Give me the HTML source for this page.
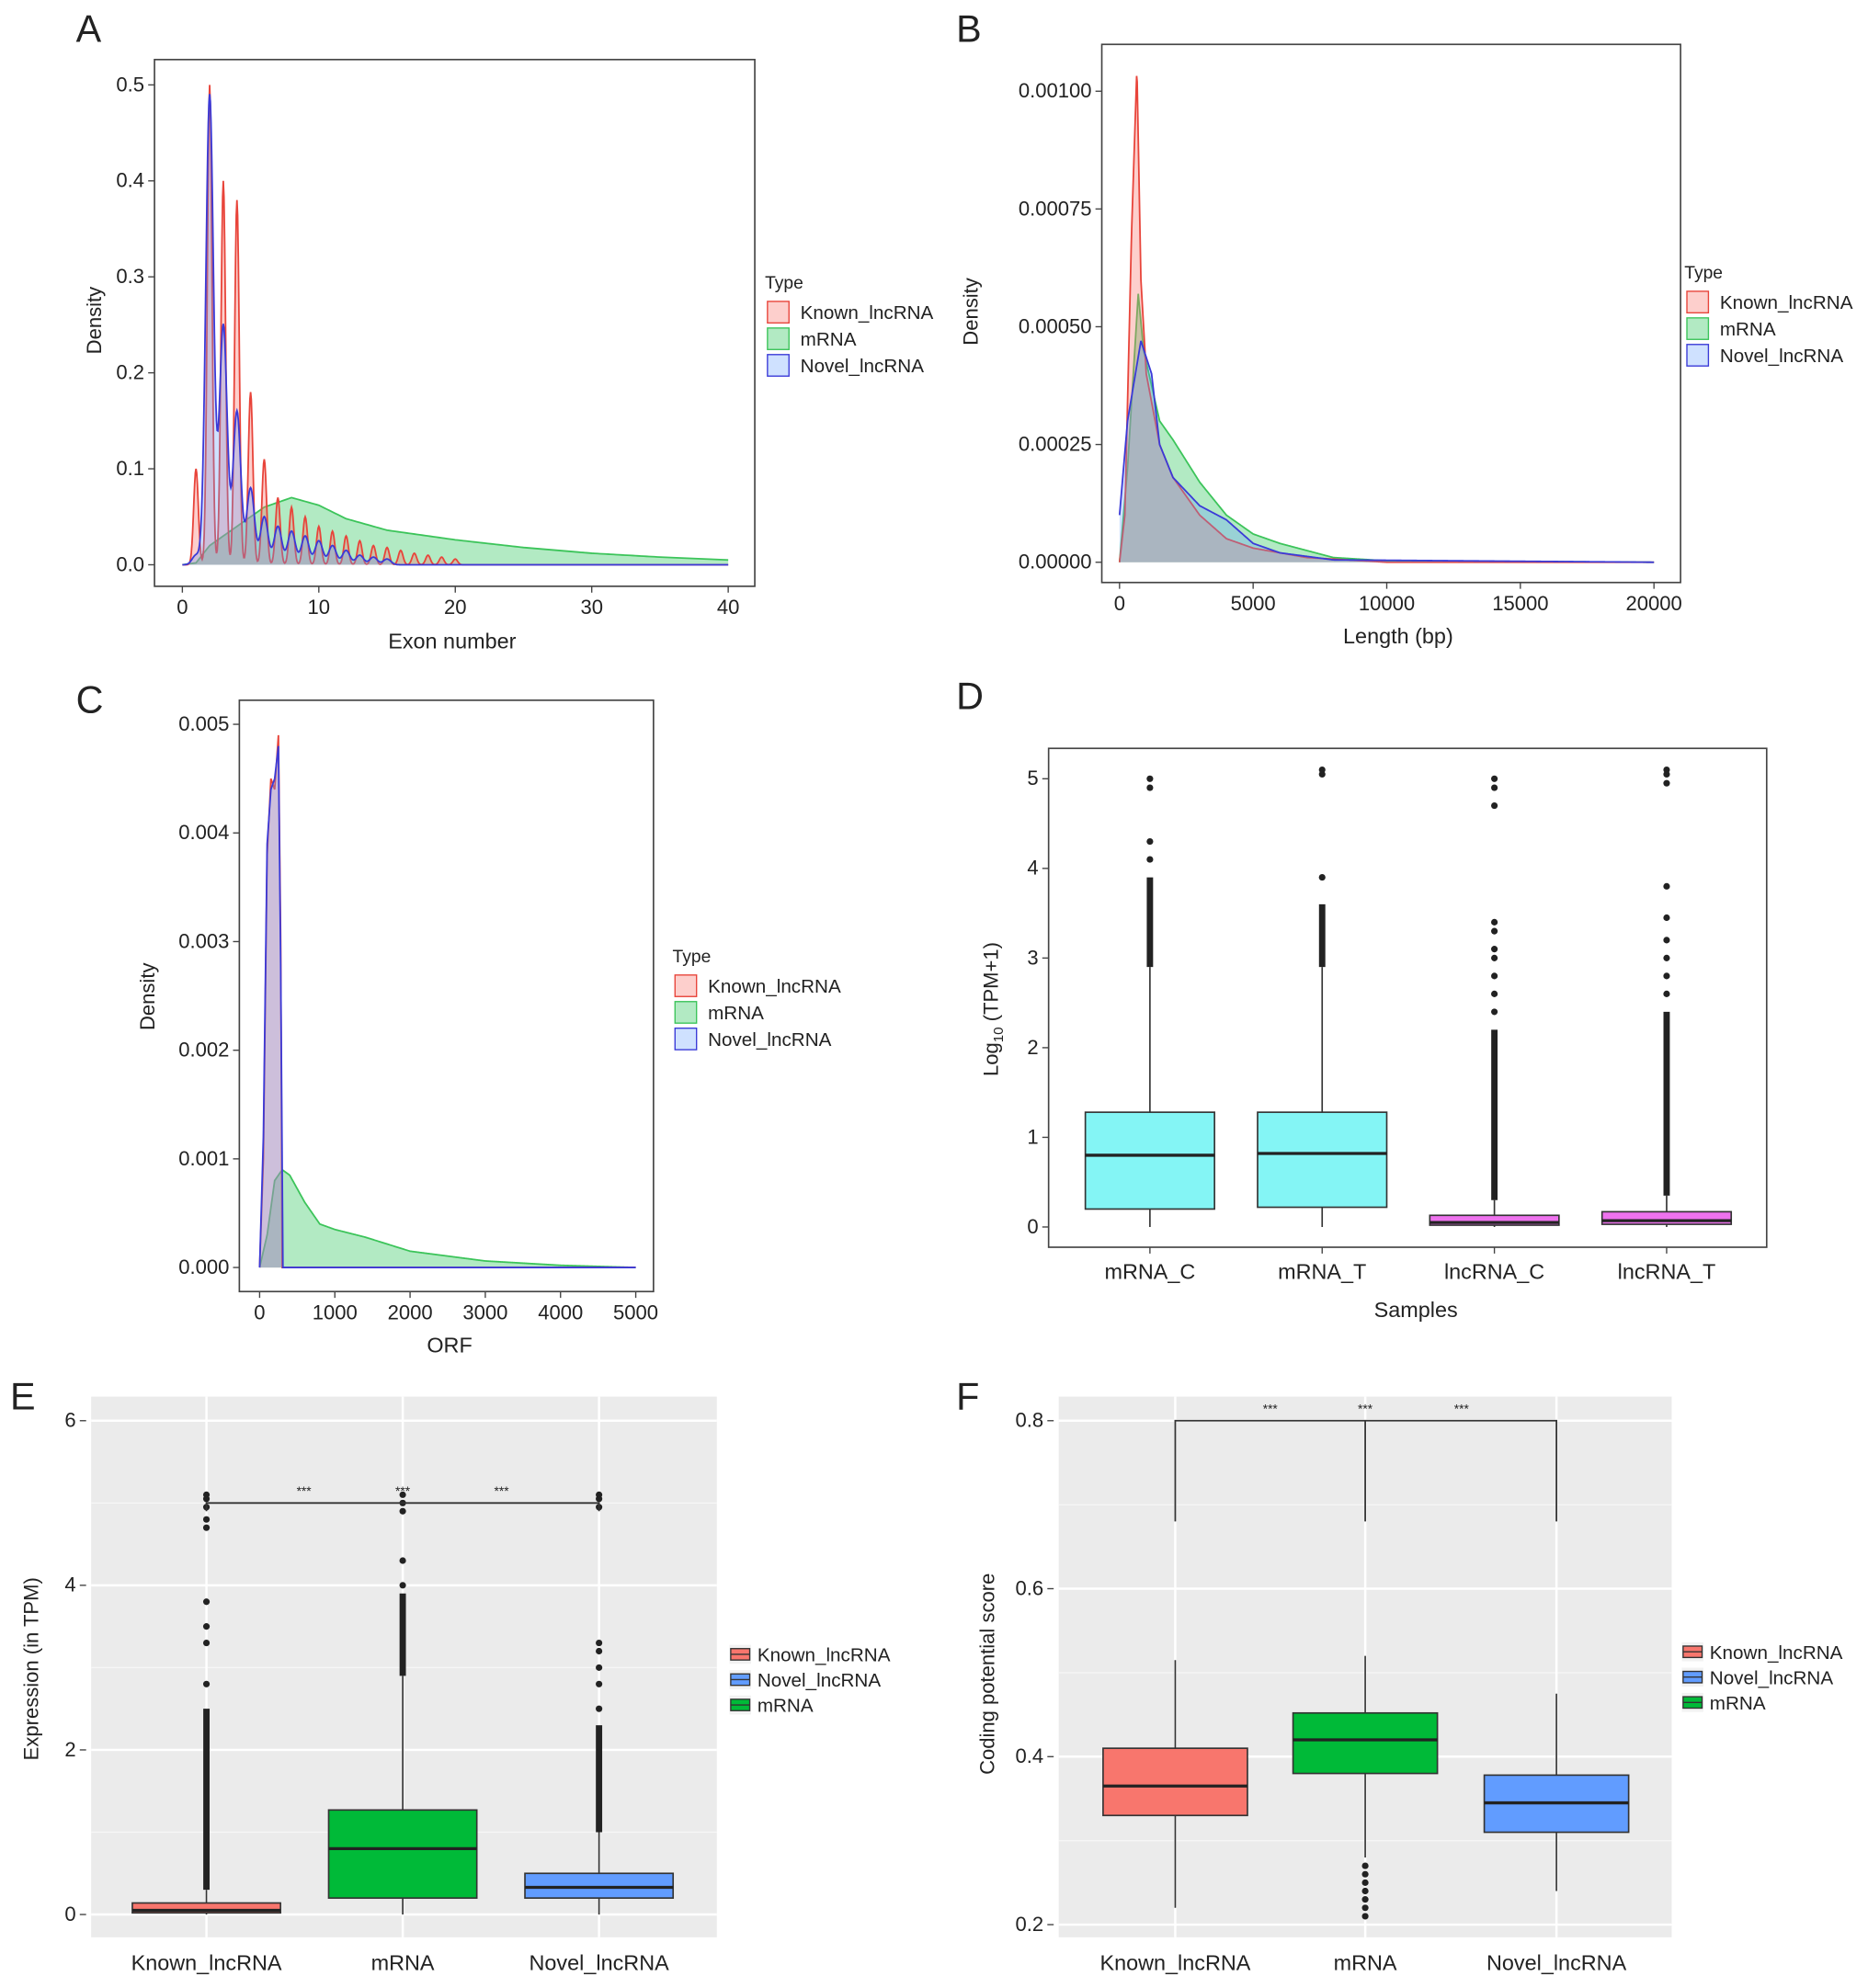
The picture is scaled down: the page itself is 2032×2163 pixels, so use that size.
<!DOCTYPE html>
<html><head><meta charset="utf-8"><style>
html,body{margin:0;padding:0;background:#fff}
svg{display:block;font-family:"Liberation Sans",Arial,sans-serif}
</style></head><body>
<svg id="c" width="2032" height="2163" viewBox="0 0 1475 1570" xmlns="http://www.w3.org/2000/svg"></svg>
<script>
// ---------- DATA ----------
const exonKnownPeaks=[0,0.1,0.5,0.4,0.38,0.18,0.11,0.07,0.06,0.05,0.04,0.035,0.03,0.025,0.02,0.018,0.015,0.012,0.01,0.008,0.006];
const exonNovelPeaks=[0,0.01,0.49,0.25,0.16,0.08,0.05,0.04,0.035,0.03,0.025,0.02,0.015,0.01,0.008,0.006];
const exonMrna=[[0,0],[1,0.002],[2,0.02],[4,0.04],[6,0.06],[8,0.07],[10,0.062],[12,0.048],[15,0.036],[20,0.026],[25,0.018],[30,0.012],[35,0.008],[40,0.005]];
const lenKnown=[[0,0],[200,0.0001],[450,0.0007],[650,0.00105],[800,0.0006],[1000,0.0004],[1500,0.00025],[2000,0.00018],[3000,0.0001],[4000,0.00005],[5000,0.00003],[7000,0.00001],[10000,0],[20000,0]];
const lenMrna=[[0,0],[300,0.0002],[700,0.00057],[900,0.00045],[1500,0.0003],[2000,0.00026],[3000,0.00017],[4000,0.0001],[5000,0.00006],[6000,0.00004],[8000,0.00001],[10000,0.000003],[20000,0]];
const lenNovel=[[0,0.0001],[300,0.0003],[800,0.00047],[1200,0.0004],[1500,0.00025],[2000,0.00018],[3000,0.00012],[4000,0.00009],[5000,0.00004],[6000,0.00002],[8000,0.000005],[20000,0]];
const orfKnown=[[0,0],[50,0.001],[100,0.0038],[150,0.0045],[200,0.0044],[250,0.0049],[280,0.003],[300,0],[5000,0]];
const orfNovel=[[0,0],[50,0.0012],[100,0.0039],[150,0.0044],[200,0.0045],[250,0.0048],[280,0.0028],[310,0],[5000,0]];
const orfMrna=[[0,0],[100,0.0003],[200,0.0008],[300,0.0009],[400,0.00085],[600,0.0006],[800,0.0004],[1000,0.00035],[1400,0.00028],[2000,0.00015],[3000,0.00006],[4000,0.00002],[5000,0]];
const dCats=["mRNA_C","mRNA_T","lncRNA_C","lncRNA_T"];
const dStats=[[0,0.2,0.8,1.28,2.9],[0,0.22,0.82,1.28,2.9],[0,0.02,0.05,0.13,0.3],[0,0.03,0.07,0.17,0.35]];
const dDense=[[2.9,3.9],[2.9,3.6],[0.3,2.2],[0.35,2.4]];
const dOut=[[4.1,4.3,4.9,5.0],[3.9,5.05,5.1],[2.4,2.6,2.8,3.0,3.1,3.3,3.4,4.7,4.9,5.0],[2.6,2.8,3.0,3.2,3.45,3.8,4.95,5.05,5.1]];
const eCats=["Known_lncRNA","mRNA","Novel_lncRNA"];
const eStats=[[0,0.02,0.05,0.14,0.3],[0,0.2,0.8,1.27,2.9],[0,0.2,0.33,0.5,1.0]];
const eDense=[[0.3,2.5],[2.9,3.9],[1.0,2.3]];
const eOut=[[2.8,3.3,3.5,3.8,4.7,4.8,4.95,5.05,5.1],[4.0,4.3,4.9,5.0,5.1],[2.5,2.8,3.0,3.2,3.3,4.95,5.05,5.1]];
const fStats=[[0.22,0.33,0.365,0.41,0.515],[0.28,0.38,0.42,0.452,0.52],[0.24,0.31,0.345,0.378,0.475]];
const fOut=[[],[0.21,0.22,0.23,0.24,0.25,0.26,0.27],[]];
// ---------- HELPERS ----------
const svg=document.getElementById('c');
const NS='http://www.w3.org/2000/svg';
function el(t,a,p){const e=document.createElementNS(NS,t);for(const k in a)e.setAttribute(k,a[k]);(p||svg).appendChild(e);return e;}
function txt(x,y,s,a){const e=el('text',Object.assign({x:x,y:y,'font-size':15,fill:'#222'},a||{}));e.textContent=s;return e;}
function lin(d0,d1,r0,r1){return v=>r0+(v-d0)/(d1-d0)*(r1-r0);}
function interp(pts,x){for(let i=1;i<pts.length;i++){if(x<=pts[i][0]){const a=pts[i-1],b=pts[i];return a[1]+(x-a[0])/(b[0]-a[0])*(b[1]-a[1]);}}return pts[pts.length-1][1];}
function areaPath(fn,x0,x1,X,Y,n){let d='M'+X(x0)+','+Y(0);for(let i=0;i<=n;i++){const x=x0+(x1-x0)*i/n;d+='L'+X(x).toFixed(2)+','+Y(fn(x)).toFixed(2);}return d+'L'+X(x1)+','+Y(0)+'Z';}
function linePath(fn,x0,x1,X,Y,n){let d='';for(let i=0;i<=n;i++){const x=x0+(x1-x0)*i/n;d+=(i?'L':'M')+X(x).toFixed(2)+','+Y(fn(x)).toFixed(2);}return d;}
function peaks(h,s){return x=>{let v=0;h.forEach((p,k)=>{v+=p*Math.exp(-((x-k)**2)/(2*s*s));});return v;};}
function label(x,y,s){const t=txt(x,y,s,{'font-size':30});}
function frame(x0,y0,x1,y1,name){const r=el('rect',{x:x0,y:y0,width:x1-x0,height:y1-y0,fill:'none',stroke:'#444','stroke-width':1.2});}
function xticks(vals,X,y,fmt){vals.forEach(v=>{el('line',{x1:X(v),x2:X(v),y1:y,y2:y+5,stroke:'#444'});const t=txt(X(v),y+22,fmt?fmt(v):String(v),{'text-anchor':'middle','font-size':16});});}
function yticks(vals,Y,x,fmt){vals.forEach(v=>{el('line',{x1:x-5,x2:x,y1:Y(v),y2:Y(v),stroke:'#444'});const t=txt(x-8,Y(v)+5,fmt(v),{'text-anchor':'end','font-size':16});});}
function ytitle(x,y,s,name){const t=txt(x,y,s,{'text-anchor':'middle','font-size':16,transform:'rotate(-90 '+x+' '+y+')'});return t;}
function xtitle(x,y,s,name){const t=txt(x,y,s,{'text-anchor':'middle','font-size':17});}
const cK={f:'rgba(248,118,109,0.35)',s:'#e8443a'},cM={f:'rgba(0,186,56,0.3)',s:'#3cc45a'},cN={f:'rgba(97,156,255,0.3)',s:'#3a3ad8'};
function densLegend(x,y,name){const g=el('g',{});
 txt(x,y,'Type',{'font-size':14},g);
 [['Known_lncRNA',cK],['mRNA',cM],['Novel_lncRNA',cN]].forEach((e,i)=>{const r=el('rect',{x:x+2,y:y+10+i*21,width:17,height:17,fill:e[1].f,stroke:e[1].s},g);const t=txt(x+28,y+24+i*21,e[0],{'font-size':15},g);});}
function drawSeries(fn,x0,x1,X,Y,c,name,n){const a=el('path',{d:areaPath(fn,x0,x1,X,Y,n),fill:c.f,stroke:'none'});const l=el('path',{d:linePath(fn,x0,x1,X,Y,n),fill:'none',stroke:c.s,'stroke-width':1.3});}
// ---------- A ----------
label(60,33,'A');
{const X=lin(0,40,144,575),Y=lin(0,0.5,446,67);
 drawSeries(x=>interp(exonMrna,x),0,40,X,Y,cM,'a-mrna',200);
 drawSeries(peaks(exonKnownPeaks,0.17),0,40,X,Y,cK,'a-known',800);
 drawSeries(peaks(exonNovelPeaks,0.28),0,40,X,Y,cN,'a-novel',800);
 frame(122,47,596,463,'panel-a-plot');
 xticks([0,10,20,30,40],X,463);yticks([0,0.1,0.2,0.3,0.4,0.5],Y,122,v=>v.toFixed(1));
 xtitle(357,512,'Exon number','a-x-title');ytitle(80,253,'Density','a-y-title');densLegend(604,228,'a-legend');}
// ---------- B ----------
label(755,33,'B');
{const X=lin(0,20000,884,1306),Y=lin(0,0.001,444,72);
 drawSeries(x=>interp(lenMrna,x),0,20000,X,Y,cM,'b-mrna',1000);
 drawSeries(x=>interp(lenKnown,x),0,20000,X,Y,cK,'b-known',1000);
 drawSeries(x=>interp(lenNovel,x),0,20000,X,Y,cN,'b-novel',1000);
 frame(870,35,1327,460,'panel-b-plot');
 xticks([0,5000,10000,15000,20000],X,460);yticks([0,0.00025,0.0005,0.00075,0.001],Y,870,v=>v.toFixed(5));
 xtitle(1104,508,'Length (bp)','b-x-title');ytitle(772,246,'Density','b-y-title');densLegend(1330,220,'b-legend');}
// ---------- C ----------
label(60,563,'C');
{const X=lin(0,5000,205,502),Y=lin(0,0.005,1001,572);
 drawSeries(x=>interp(orfMrna,x),0,5000,X,Y,cM,'c-mrna',1000);
 drawSeries(x=>interp(orfKnown,x),0,5000,X,Y,cK,'c-known',1000);
 drawSeries(x=>interp(orfNovel,x),0,5000,X,Y,cN,'c-novel',1000);
 frame(189,553,516,1020,'panel-c-plot');
 xticks([0,1000,2000,3000,4000,5000],X,1020);yticks([0,0.001,0.002,0.003,0.004,0.005],Y,189,v=>v.toFixed(3));
 xtitle(355,1068,'ORF','c-x-title');ytitle(122,787,'Density','c-y-title');densLegend(531,760,'c-legend');}
// ---------- box helper ----------
function boxes(cats,stats,dense,outs,cx,w,Y,fills,pref){
 cats.forEach((c,i)=>{const s=stats[i],x=cx[i],g=el('g',{});
  el('line',{x1:x,x2:x,y1:Y(s[0]),y2:Y(s[4]),stroke:'#333','stroke-width':1.2},g);
  el('rect',{x:x-w/2,y:Y(s[3]),width:w,height:Y(s[1])-Y(s[3]),fill:fills[i],stroke:'#333','stroke-width':1.2},g);
  el('line',{x1:x-w/2,x2:x+w/2,y1:Y(s[2]),y2:Y(s[2]),stroke:'#222','stroke-width':2.4},g);
  if(dense&&dense[i])el('line',{x1:x,x2:x,y1:Y(dense[i][0]),y2:Y(dense[i][1]),stroke:'#222','stroke-width':5},g);
  (outs[i]||[]).forEach(v=>el('circle',{cx:x,cy:Y(v),r:2.6,fill:'#222'},g));});}
// ---------- D ----------
label(755,560,'D');
{const Y=lin(0,5,969,615),cx=[908,1044,1180,1316];
 frame(828,591,1395,985,'panel-d-plot');
 boxes(dCats,dStats,dDense,dOut,cx,102,Y,['#84f5f5','#84f5f5','#ee72ee','#ee72ee'],'d');
 yticks([0,1,2,3,4,5],Y,828,v=>String(v));
 dCats.forEach((c,i)=>{el('line',{x1:cx[i],x2:cx[i],y1:985,y2:990,stroke:'#444'});const t=txt(cx[i],1010,c,{'text-anchor':'middle','font-size':17});});
 xtitle(1118,1040,'Samples','d-x-title');
 const t=ytitle(788,797,'','d-y-title');t.innerHTML='Log<tspan font-size="11" dy="4">10</tspan><tspan dy="-4"> (TPM+1)</tspan>';}
// ---------- ggplot panel helper ----------
function ggpanel(x0,y0,x1,y1,Y,ticks,minor,cx,name){const r=el('rect',{x:x0,y:y0,width:x1-x0,height:y1-y0,fill:'#ebebeb'});
 minor.forEach(v=>el('line',{x1:x0,x2:x1,y1:Y(v),y2:Y(v),stroke:'#f6f6f6','stroke-width':1}));
 ticks.forEach(v=>el('line',{x1:x0,x2:x1,y1:Y(v),y2:Y(v),stroke:'#fff','stroke-width':1.8}));
 cx.forEach(x=>el('line',{x1:x,x2:x,y1:y0,y2:y1,stroke:'#fff','stroke-width':1.8}));}
function ggLegend(x,y,name){const g=el('g',{});
 [['Known_lncRNA','#f8766d'],['Novel_lncRNA','#619cff'],['mRNA','#00ba38']].forEach((e,i)=>{const yy=y+i*20;el('rect',{x:x,y:yy,width:17,height:15,fill:'#f2f2f2'},g);el('rect',{x:x+1,y:yy+3,width:15,height:9,fill:e[1],stroke:'#333'},g);el('line',{x1:x+1,x2:x+16,y1:yy+7.5,y2:yy+7.5,stroke:'#333'},g);const t=txt(x+22,yy+13,e[0],{'font-size':15},g);});}
const gf=['#f8766d','#00ba38','#619cff'];
// ---------- E ----------
label(8,1113,'E');
{const Y=lin(0,6,1512,1122),cx=[163,318,473];
 ggpanel(72,1103,566,1530,Y,[0,2,4,6],[1,3,5],cx,'panel-e-plot');
 boxes(eCats,eStats,eDense,eOut,cx,117,Y,gf,'e');
 el('path',{d:'M'+cx[0]+','+Y(4.9)+'V'+Y(5)+'H'+cx[2]+'V'+Y(4.9),fill:'none',stroke:'#333','stroke-width':1.3});
 [[240,'***'],[318,'***'],[396,'***']].forEach(a=>{const t=txt(a[0],Y(5)-6,a[1],{'text-anchor':'middle','font-size':10});});
 yticks([0,2,4,6],Y,68,v=>String(v));
 eCats.forEach((c,i)=>{const t=txt(cx[i],1556,c,{'text-anchor':'middle','font-size':17});});
 ytitle(30,1318,'Expression (in TPM)','e-y-title');ggLegend(576,1299,'e-legend');}
// ---------- F ----------
label(755,1113,'F');
{const Y=lin(0.2,0.8,1520,1122),cx=[928,1078,1229];
 ggpanel(836,1103,1320,1530,Y,[0.2,0.4,0.6,0.8],[0.3,0.5,0.7],cx,'panel-f-plot');
 boxes(eCats,fStats,null,fOut,cx,114,Y,gf,'f');
 el('path',{d:'M'+cx[0]+','+Y(0.68)+'V'+Y(0.8)+'H'+cx[2]+'V'+Y(0.68)+'M'+cx[1]+','+Y(0.8)+'V'+Y(0.68),fill:'none',stroke:'#333','stroke-width':1.3});
 [[1003,'***'],[1078,'***'],[1154,'***']].forEach(a=>{const t=txt(a[0],Y(0.8)-6,a[1],{'text-anchor':'middle','font-size':10});});
 yticks([0.2,0.4,0.6,0.8],Y,832,v=>v.toFixed(1));
 eCats.forEach((c,i)=>{const t=txt(cx[i],1556,c,{'text-anchor':'middle','font-size':17});});
 ytitle(785,1322,'Coding potential score','f-y-title');ggLegend(1328,1297,'f-legend');}
</script>
</body></html>
